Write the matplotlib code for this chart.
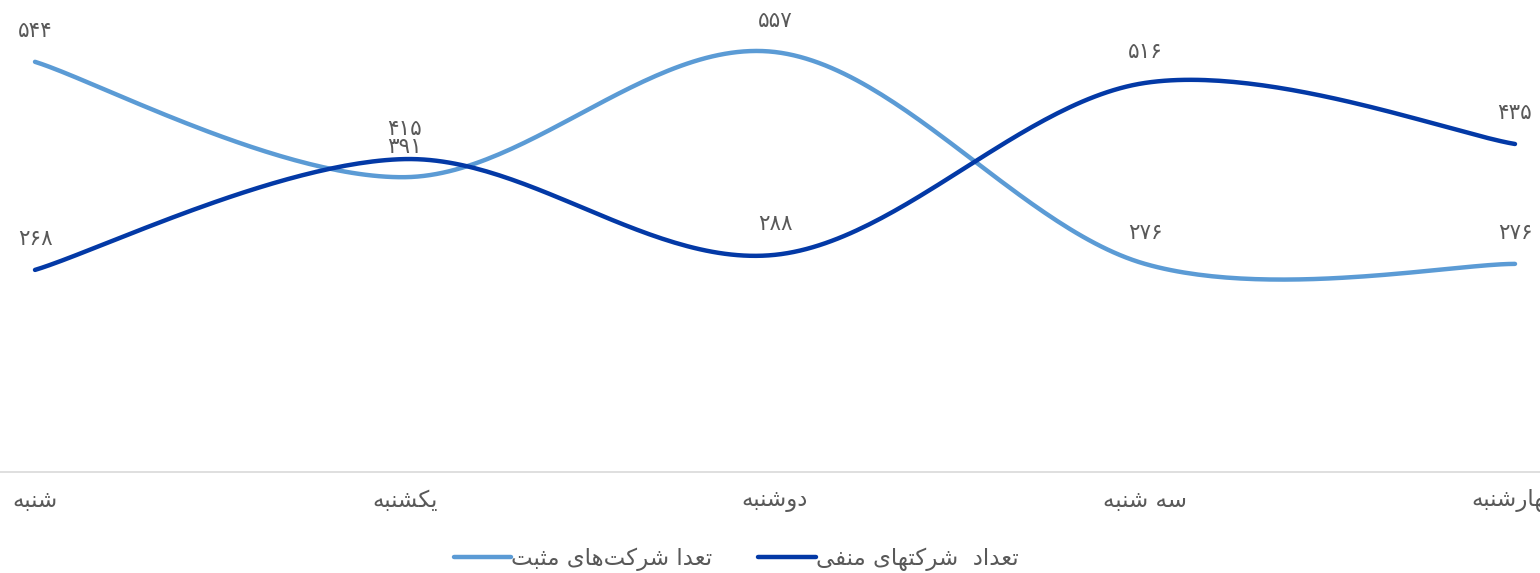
import matplotlib
matplotlib.use('Agg')
import matplotlib.pyplot as plt
import numpy as np

# data
days = ['شنبه', 'یکشنبه', 'دوشنبه', 'سه شنبه', 'چهارشنبه']
positive = [544, 391, 557, 276, 276]
negative = [268, 415, 288, 516, 435]
positive_name = 'تعدا شرکت\u200cهای مثبت'
negative_name = 'تعداد  شرکتهای منفی'

# simple persian shaping: (isolated, final, initial, medial); 2-tuples join only to the right
forms = {
    'ا': ('\uFE8D', '\uFE8E'),
    'د': ('\uFEA9', '\uFEAA'),
    'ر': ('\uFEAD', '\uFEAE'),
    'و': ('\uFEED', '\uFEEE'),
    'ب': ('\uFE8F', '\uFE90', '\uFE91', '\uFE92'),
    'ت': ('\uFE95', '\uFE96', '\uFE97', '\uFE98'),
    'ث': ('\uFE99', '\uFE9A', '\uFE9B', '\uFE9C'),
    'س': ('\uFEB1', '\uFEB2', '\uFEB3', '\uFEB4'),
    'ش': ('\uFEB5', '\uFEB6', '\uFEB7', '\uFEB8'),
    'ع': ('\uFEC9', '\uFECA', '\uFECB', '\uFECC'),
    'ف': ('\uFED1', '\uFED2', '\uFED3', '\uFED4'),
    'م': ('\uFEE1', '\uFEE2', '\uFEE3', '\uFEE4'),
    'ن': ('\uFEE5', '\uFEE6', '\uFEE7', '\uFEE8'),
    'ه': ('\uFEE9', '\uFEEA', '\uFEEB', '\uFEEC'),
    'ک': ('\uFB8E', '\uFB8F', '\uFB90', '\uFB91'),
    'ی': ('\uFBFC', '\uFBFD', '\uFBFE', '\uFBFF'),
    'چ': ('\uFB7A', '\uFB7B', '\uFB7C', '\uFB7D'),
}


def shape(text):
    out = []
    for i, ch in enumerate(text):
        if ch not in forms:
            if ch != '\u200c':
                out.append(ch)
            continue
        prev = text[i - 1] if i > 0 else ''
        nxt = text[i + 1] if i + 1 < len(text) else ''
        join_prev = prev in forms and len(forms[prev]) == 4
        join_next = nxt in forms and len(forms[ch]) == 4
        f = forms[ch]
        if join_prev and join_next:
            out.append(f[3])
        elif join_prev:
            out.append(f[1])
        elif join_next:
            out.append(f[2])
        else:
            out.append(f[0])
    return ''.join(reversed(out))


def fa_num(n):
    return str(n).translate(str.maketrans('0123456789', '۰۱۲۳۴۵۶۷۸۹'))


def smooth(y, n=60):
    # excel-like smoothed line (catmull-rom bezier)
    p = np.column_stack([np.arange(len(y)), y]).astype(float)
    pts = []
    for i in range(len(p) - 1):
        p0 = p[i - 1] if i > 0 else p[i]
        p3 = p[i + 2] if i + 2 < len(p) else p[i + 1]
        c1 = p[i] + (p[i + 1] - p0) / 6
        c2 = p[i + 1] - (p3 - p[i]) / 6
        t = np.linspace(0, 1, n)[:, None]
        seg = ((1 - t) ** 3 * p[i] + 3 * (1 - t) ** 2 * t * c1
               + 3 * (1 - t) * t ** 2 * c2 + t ** 3 * p[i + 1])
        pts.append(seg)
    pts = np.vstack(pts)
    return pts[:, 0], pts[:, 1]


plt.rcParams['font.family'] = ['DejaVu Sans']
fig = plt.figure(figsize=(15.4, 5.73), dpi=100)
ax = fig.add_axes([0, 0.1763, 1, 0.7895])

light = '#5B9BD5'
dark = '#0339A6'
grey = '#595959'

x, y = smooth(positive)
ax.plot(x, y, color=light, lw=3.2, solid_capstyle='round', label=shape(positive_name))
x, y = smooth(negative)
ax.plot(x, y, color=dark, lw=3.2, solid_capstyle='round', label=shape(negative_name))

for i in range(len(days)):
    ax.annotate(fa_num(positive[i]), (i, positive[i]), xytext=(0, 22), textcoords='offset points',
                ha='center', va='center', fontsize=15.5, color=grey)
    ax.annotate(fa_num(negative[i]), (i, negative[i]), xytext=(0, 22), textcoords='offset points',
                ha='center', va='center', fontsize=15.5, color=grey)

ax.set_xlim(-35 / 370, 4 + 25 / 370)
ax.set_ylim(0, 600)
ax.set_xticks(range(len(days)))
ax.set_xticklabels([shape(d) for d in days], fontsize=16.5, color=grey)
ax.tick_params(axis='x', length=0, pad=12)
ax.set_yticks([])
for s in ['top', 'right', 'left']:
    ax.spines[s].set_visible(False)
ax.spines['bottom'].set_color('#D9D9D9')
ax.spines['bottom'].set_linewidth(1.2)

fig.legend(loc='center', bbox_to_anchor=(0.478, 0.025), ncol=2, frameon=False, fontsize=16.5,
           handlelength=2.5, handletextpad=0.0, columnspacing=2.0, labelcolor=grey)

fig.savefig('out.png', dpi=100)
